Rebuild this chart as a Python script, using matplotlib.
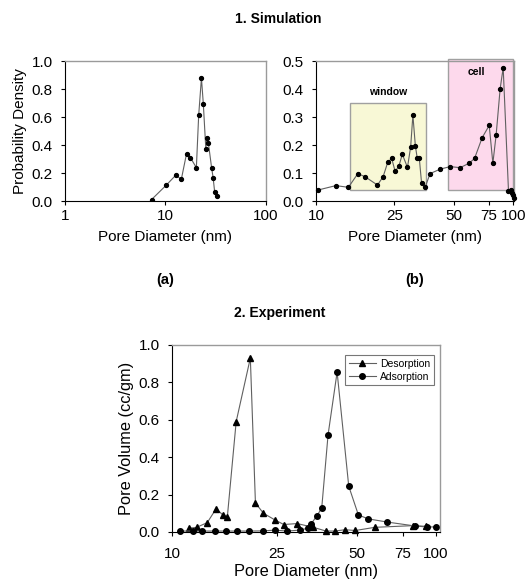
import matplotlib
matplotlib.use("Agg")
import matplotlib.pyplot as plt
from matplotlib.patches import Rectangle
from matplotlib.ticker import FixedLocator, FixedFormatter, NullLocator

plt.rcParams['font.family'] = ['Liberation Sans', 'DejaVu Sans']

# (a) simulation, full range
sim_a_x = [7.26, 10.2, 12.6, 14.4, 16.2, 17.7, 20.3, 21.4, 22.8, 23.8, 25.2,
           25.9, 26.7, 28.8, 29.8, 30.9, 32.4]
sim_a_y = [0.01, 0.114, 0.183, 0.157, 0.338, 0.31, 0.238, 0.612, 0.879, 0.695,
           0.374, 0.452, 0.417, 0.236, 0.167, 0.062, 0.033]

# (b) simulation, 10-100 nm
sim_b_x = [10.2, 12.6, 14.6, 16.3, 17.8, 20.5, 21.9, 23.1, 24.2, 25.2, 26.3,
           27.4, 29.1, 30.2, 31.0, 31.9, 32.6, 33.4, 34.3, 35.8, 37.9, 42.7,
           48.0, 53.8, 59.8, 63.7, 69.6, 75.6, 78.9, 82.0, 85.9, 89.0, 94.7,
           97.3, 98.5, 99.5, 100.5]
sim_b_y = [0.039, 0.055, 0.049, 0.098, 0.086, 0.057, 0.087, 0.138, 0.152, 0.106,
           0.124, 0.167, 0.12, 0.193, 0.307, 0.198, 0.154, 0.154, 0.065, 0.05,
           0.098, 0.114, 0.123, 0.119, 0.135, 0.152, 0.226, 0.27, 0.135, 0.237,
           0.401, 0.476, 0.036, 0.038, 0.03, 0.02, 0.011]

# shaded regions (x0, x1, y0, y1)
window_box = (14.9, 36.1, 0.038, 0.351)
cell_box = (46.8, 100.4, 0.038, 0.506)

# experiment
des_x = [11.6, 12.4, 13.6, 14.7, 15.6, 16.2, 17.5, 19.8, 20.7, 22.2, 24.5,
         26.5, 29.8, 34.3, 38.3, 41.3, 45.2, 49.5, 58.7, 82.0, 92.0]
des_y = [0.02, 0.025, 0.05, 0.125, 0.09, 0.08, 0.59, 0.93, 0.155, 0.1, 0.065,
         0.04, 0.045, 0.025, 0.005, 0.005, 0.012, 0.008, 0.025, 0.034, 0.03]
ads_x = [10.76, 12.05, 13.0, 14.6, 16.0, 17.6, 19.6, 22.2, 24.5, 27.3, 30.4,
         32.7, 33.7, 35.4, 36.9, 39.0, 42.2, 46.7, 50.8, 55.4, 65.4, 83.3,
         92.2, 100.0]
ads_y = [0.005, 0.005, 0.005, 0.005, 0.005, 0.005, 0.005, 0.006, 0.01, 0.005,
         0.01, 0.02, 0.045, 0.087, 0.128, 0.52, 0.855, 0.245, 0.091, 0.07,
         0.053, 0.032, 0.027, 0.027]

line_col = "#606060"
tick_fs = 11


def style_axis(ax, xticks, yticks, ylabel=None, label_fs=11, xpad=3, xlabelpad=5):
    ax.set_xscale("log")
    ax.xaxis.set_major_locator(FixedLocator(xticks))
    ax.xaxis.set_major_formatter(FixedFormatter([str(t) for t in xticks]))
    ax.xaxis.set_minor_locator(NullLocator())
    ax.set_yticks(yticks)
    ax.set_yticklabels([f"{t:.1f}" for t in yticks])
    ax.tick_params(direction="out", length=3, width=0.8, labelsize=tick_fs)
    ax.tick_params(axis="y", pad=6)
    ax.tick_params(axis="x", pad=xpad)
    for s in ("top", "right"):
        ax.spines[s].set_color("#9a9a9a")
        ax.spines[s].set_linewidth(1.0)
    for s in ("left", "bottom"):
        ax.spines[s].set_color("black")
        ax.spines[s].set_linewidth(0.8)
    ax.set_xlabel("Pore Diameter (nm)", fontsize=label_fs, labelpad=xlabelpad)
    if ylabel:
        ax.set_ylabel(ylabel, fontsize=label_fs, labelpad=3)


fig = plt.figure(figsize=(5.26, 5.83), dpi=100)

ax_a = fig.add_axes([0.1236, 0.6552, 0.382, 0.2401])
ax_a.plot(sim_a_x, sim_a_y, color=line_col, lw=0.8, marker="o", ms=2.8,
          mfc="black", mec="black")
ax_a.set_xlim(1, 100)
ax_a.set_ylim(0, 1.0)
style_axis(ax_a, [1, 10, 100], [0.0, 0.2, 0.4, 0.6, 0.8, 1.0], "Probability Density")

ax_b = fig.add_axes([0.6008, 0.6552, 0.3764, 0.2401])
x0, x1, y0, y1 = window_box
ax_b.add_patch(Rectangle((x0, y0), x1 - x0, y1 - y0, facecolor="#f8f8d6",
                         edgecolor="#a0a0a0", lw=1.0, zorder=1))
ax_b.text((x0 * x1) ** 0.5, y1 + 0.02, "window", ha="center", va="bottom",
          fontsize=7.5, fontweight="bold")
x0, x1, y0, y1 = cell_box
ax_b.add_patch(Rectangle((x0, y0), x1 - x0, y1 - y0, facecolor="#fdd9ec",
                         edgecolor="#a0a0a0", lw=1.0, zorder=1, clip_on=False))
ax_b.text(64.7, 0.46, "cell", ha="center", va="center",
          fontsize=7.5, fontweight="bold")
ax_b.plot(sim_b_x, sim_b_y, color=line_col, lw=0.8, marker="o", ms=2.8,
          mfc="black", mec="black", zorder=3, clip_on=False)
ax_b.set_xlim(10, 101)
ax_b.set_ylim(0, 0.5)
style_axis(ax_b, [10, 25, 50, 75, 100], [0.0, 0.1, 0.2, 0.3, 0.4, 0.5])

ax_c = fig.add_axes([0.327, 0.0875, 0.5095, 0.3208])
ax_c.plot(des_x, des_y, color=line_col, lw=0.8, marker="^", ms=3.8,
          mfc="black", mec="black", label="Desorption", clip_on=False)
ax_c.plot(ads_x, ads_y, color=line_col, lw=0.8, marker="o", ms=4,
          mfc="black", mec="black", label="Adsorption", clip_on=False)
ax_c.set_xlim(10, 103.5)
ax_c.set_ylim(0, 1.0)
style_axis(ax_c, [10, 25, 50, 75, 100], [0.0, 0.2, 0.4, 0.6, 0.8, 1.0],
           "Pore Volume (cc/gm)", label_fs=11.8, xpad=8, xlabelpad=2)
leg = ax_c.legend(loc="upper right", bbox_to_anchor=(0.985, 0.955), fontsize=7.5,
                  frameon=True, fancybox=False, borderpad=0.35, handlelength=2.6,
                  handletextpad=0.4, labelspacing=0.25, borderaxespad=0.2)
leg.get_frame().set_edgecolor("#555555")
leg.get_frame().set_linewidth(0.8)

fig.text(0.5285, 0.967, "1. Simulation", ha="center", va="center",
         fontsize=10, fontweight="bold")
fig.text(0.3137, 0.5197, "(a)", ha="center", va="center", fontsize=10.5,
         fontweight="bold")
fig.text(0.789, 0.5197, "(b)", ha="center", va="center", fontsize=10.5,
         fontweight="bold")
fig.text(0.532, 0.463, "2. Experiment", ha="center", va="center",
         fontsize=10, fontweight="bold")

fig.savefig("out.png", dpi=100)
